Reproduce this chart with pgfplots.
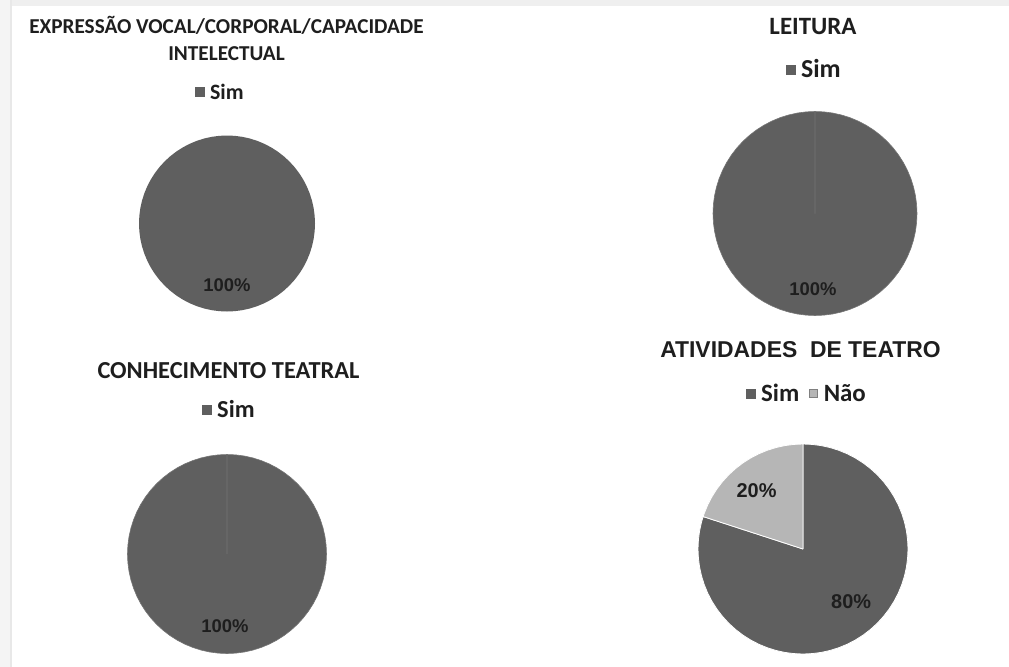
\documentclass[border=0pt]{standalone}
\usepackage{fontspec}
\setmainfont{Carlito}
\newfontfamily\arialf{Liberation Sans}
\usepackage{pgfplots}
\usepackage{pgfplotstable}
\usepgfplotslibrary{polar}
\pgfplotsset{compat=1.18}
\definecolor{pieDark}{HTML}{5F5F5F}
\definecolor{pieLight}{HTML}{B6B6B6}
\definecolor{frameGray}{HTML}{EFEFEF}
\definecolor{frameLeft}{HTML}{F4F4F4}
\definecolor{txt}{HTML}{1E1E1E}

% full pie (100%): angle radius, clockwise from 12 o'clock
\pgfplotstableread{
a r
0 0
90 1
85 1
80 1
75 1
70 1
65 1
60 1
55 1
50 1
45 1
40 1
35 1
30 1
25 1
20 1
15 1
10 1
5 1
0 1
-5 1
-10 1
-15 1
-20 1
-25 1
-30 1
-35 1
-40 1
-45 1
-50 1
-55 1
-60 1
-65 1
-70 1
-75 1
-80 1
-85 1
-90 1
-95 1
-100 1
-105 1
-110 1
-115 1
-120 1
-125 1
-130 1
-135 1
-140 1
-145 1
-150 1
-155 1
-160 1
-165 1
-170 1
-175 1
-180 1
-185 1
-190 1
-195 1
-200 1
-205 1
-210 1
-215 1
-220 1
-225 1
-230 1
-235 1
-240 1
-245 1
-250 1
-255 1
-260 1
-265 1
-270 1
0 0
}\fullpie

% Sim 80%: from 90 deg clockwise over 288 deg
\pgfplotstableread{
a r
0 0
90 1
85 1
80 1
75 1
70 1
65 1
60 1
55 1
50 1
45 1
40 1
35 1
30 1
25 1
20 1
15 1
10 1
5 1
0 1
-5 1
-10 1
-15 1
-20 1
-25 1
-30 1
-35 1
-40 1
-45 1
-50 1
-55 1
-60 1
-65 1
-70 1
-75 1
-80 1
-85 1
-90 1
-95 1
-100 1
-105 1
-110 1
-115 1
-120 1
-125 1
-130 1
-135 1
-140 1
-145 1
-150 1
-155 1
-160 1
-165 1
-170 1
-175 1
-180 1
-185 1
-190 1
-195 1
-198 1
0 0
}\simpie

% Nao 20%: remaining 72 deg
\pgfplotstableread{
a r
0 0
162 1
160 1
155 1
150 1
145 1
140 1
135 1
130 1
125 1
120 1
115 1
110 1
105 1
100 1
95 1
90 1
0 0
}\naopie

\pgfplotsset{
  pie/.style={
    hide axis, scale only axis, width=#1, height=#1,
    xmin=0, xmax=360, ymin=0, ymax=1, clip=false, anchor=center,
    legend style={draw=none, fill=none, legend columns=-1,
      inner sep=0pt, outer sep=0pt, text=txt,
      /tikz/every odd column/.append style={column sep=4.5bp},
      /tikz/every even column/.append style={column sep=8bp},
      nodes={inner sep=1.5bp, text height=0.66em, text depth=0.02em}},
  },
  simleg/.style={legend image code/.code={\fill[pieDark] (0bp,0.5bp) rectangle (9bp,9.5bp);}},
  naoleg/.style={legend image code/.code={\draw[fill=pieLight,draw=gray,line width=0.5pt] (0.3bp,0.8bp) rectangle (8.7bp,9.2bp);}},
}

\begin{document}
\begin{tikzpicture}
\useasboundingbox (0,0) rectangle (1009bp,-667bp);
\fill[white] (0,0) rectangle (1009bp,-667bp);
\fill[frameGray] (0,0) rectangle (1009bp,-6bp);
\fill[frameLeft] (0,0) rectangle (10bp,-667bp);
\fill[black!9] (10bp,0) rectangle (12bp,-667bp);

% ---------- Pie 1 ----------
\begin{polaraxis}[pie=176bp, at={(227bp,-223.5bp)},
  legend style={at={(0.46,1.235)}, anchor=center, font=\bfseries\fontsize{22}{24}\selectfont}]
\addplot[fill=pieDark, draw=none, forget plot] table[x=a,y=r] {\fullpie};
\addlegendimage{simleg}
\addlegendentry{Sim}
\node[font=\arialf\bfseries\fontsize{18.5}{18.5}\selectfont, text=txt] at (axis cs:-90,0.70) {100\%};
\end{polaraxis}
\node[anchor=base, font=\bfseries\fontsize{21.3}{21.3}\selectfont, text=txt] at (226.5bp,-33.5bp) {EXPRESSÃO VOCAL/CORPORAL/CAPACIDADE};
\node[anchor=base, font=\bfseries\fontsize{21.3}{21.3}\selectfont, text=txt] at (226.5bp,-60.5bp) {INTELECTUAL};

% ---------- Pie 2 ----------
\begin{polaraxis}[pie=204bp, at={(815bp,-213.5bp)},
  legend style={at={(0.495,1.193)}, anchor=center, font=\bfseries\fontsize{26}{28}\selectfont}]
\addplot[fill=pieDark, draw=white!14!pieDark, line width=0.6pt, forget plot] table[x=a,y=r] {\fullpie};
\addlegendimage{simleg}
\addlegendentry{Sim}
\node[font=\arialf\bfseries\fontsize{18.5}{18.5}\selectfont, text=txt] at (axis cs:-91.5,0.74) {100\%};
\end{polaraxis}
\node[anchor=base, font=\bfseries\fontsize{25}{25}\selectfont, text=txt] at (813bp,-34bp) {LEITURA};

% ---------- Pie 3 ----------
\begin{polaraxis}[pie=199bp, at={(227bp,-554bp)},
  legend style={at={(0.51,1.214)}, anchor=center, font=\bfseries\fontsize{24.5}{26}\selectfont}]
\addplot[fill=pieDark, draw=white!14!pieDark, line width=0.6pt, forget plot] table[x=a,y=r] {\fullpie};
\addlegendimage{simleg}
\addlegendentry{Sim}
\node[font=\arialf\bfseries\fontsize{18.5}{18.5}\selectfont, text=txt] at (axis cs:-91.6,0.73) {100\%};
\end{polaraxis}
\node[anchor=base, font=\bfseries\fontsize{24.5}{24.5}\selectfont, text=txt] at (228.5bp,-378bp) {CONHECIMENTO TEATRAL};

% ---------- Pie 4 ----------
\begin{polaraxis}[pie=210bp, at={(803bp,-549bp)},
  legend style={at={(0.517,1.229)}, anchor=center, font=\bfseries\fontsize{25}{27}\selectfont}]
\addplot[fill=pieDark, draw=white, line width=0.8pt, forget plot] table[x=a,y=r] {\simpie};
\addplot[fill=pieLight, draw=white, line width=0.8pt, forget plot] table[x=a,y=r] {\naopie};
\addlegendimage{simleg}
\addlegendentry{Sim}
\addlegendimage{naoleg}
\addlegendentry{Não}
\node[font=\arialf\bfseries\fontsize{20}{20}\selectfont, text=txt] at (axis cs:128.5,0.71) {20\%};
\node[font=\arialf\bfseries\fontsize{20}{20}\selectfont, text=txt] at (axis cs:-47.6,0.68) {80\%};
\end{polaraxis}
\node[anchor=base, font=\arialf\bfseries\fontsize{23}{23}\selectfont, text=txt] at (800.5bp,-357bp) {ATIVIDADES\ \ DE TEATRO};
\end{tikzpicture}
\end{document}
